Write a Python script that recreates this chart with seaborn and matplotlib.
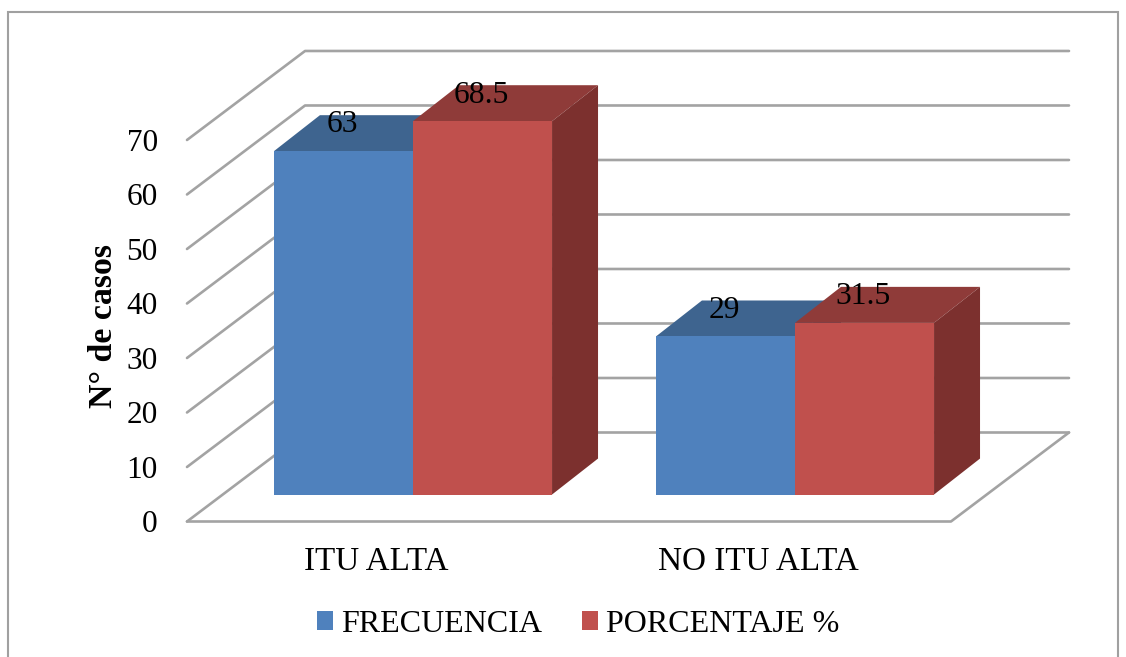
import numpy as np
import pandas as pd
import matplotlib
matplotlib.use("Agg")
import matplotlib.pyplot as plt
from matplotlib.patches import Polygon, Rectangle
import seaborn as sns

categories = ["ITU ALTA", "NO ITU ALTA"]
series_names = ["FRECUENCIA", "PORCENTAJE %"]
frecuencia = [63, 29]
porcentaje = [68.5, 31.5]
value_labels = ["63", "29", "68.5", "31.5"]
y_ticks = [0, 10, 20, 30, 40, 50, 60, 70]

front_colors = ["#4F81BD", "#C0504D"]
top_colors = ["#3E648F", "#8F3B39"]
side_colors = ["#36577F", "#7C302E"]
grid_color = "#A3A3A3"

# depth of the fake 3d, in data units
FLOOR_DROP = 4.95
WALL_DX, WALL_DY = 0.309, 16.33
BAR_DX, BAR_DY = 0.1204, 6.6

sns.set_theme(style="white")
plt.rcParams["font.family"] = ["Liberation Serif", "DejaVu Serif"]

df = pd.DataFrame({
    "categoria": categories * 2,
    "serie": np.repeat(series_names, 2),
    "valor": frecuencia + porcentaje,
})

fig = plt.figure(figsize=(11.26, 6.57), dpi=100)
ax = fig.add_axes([187 / 1126, 1 - 521.5 / 657, 882 / 1126, 471.5 / 657])

sns.barplot(data=df, x="categoria", y="valor", hue="serie", palette=front_colors,
            width=0.728, gap=0, saturation=1, errorbar=None, ax=ax, zorder=5,
            edgecolor="none", linewidth=0)

ax.set_xlim(-0.5916, 1.7173)
ax.set_ylim(-FLOOR_DROP, 81.56)
sns.despine(ax=ax, left=True, bottom=True)

# walls and floor
for v in y_ticks:
    y0 = v - FLOOR_DROP
    ax.plot([-0.5916, -0.5916 + WALL_DX, 1.7173], [y0, y0 + WALL_DY, y0 + WALL_DY],
            color=grid_color, lw=1.9, zorder=1, clip_on=False)
ax.plot([-0.5916, 1.7173 - WALL_DX, 1.7173],
        [-FLOOR_DROP, -FLOOR_DROP, -FLOOR_DROP + WALL_DY],
        color=grid_color, lw=1.9, zorder=1, clip_on=False)

# top and side faces taken from the bars seaborn drew
bars = [b for c in ax.containers for b in c]
for i, bar in enumerate(bars):
    s = i // 2
    z = 2 + s * 3
    x0, x1 = bar.get_x(), bar.get_x() + bar.get_width()
    h = bar.get_height()
    ax.add_patch(Polygon([(x0, h), (x1, h), (x1 + BAR_DX, h + BAR_DY), (x0 + BAR_DX, h + BAR_DY)],
                         facecolor=top_colors[s], edgecolor="none", zorder=z))
    ax.add_patch(Polygon([(x1, 0), (x1 + BAR_DX, BAR_DY), (x1 + BAR_DX, h + BAR_DY), (x1, h)],
                         facecolor=side_colors[s], edgecolor="none", zorder=z))
    bar.set_zorder(z + 1)
    ax.text(x0 + bar.get_width() / 2 - 0.004, h + 4.8, value_labels[i], ha="center", va="center",
            fontsize=22.7, color="black", zorder=10)

ax.set_yticks([v - FLOOR_DROP for v in y_ticks], [str(v) for v in y_ticks])
ax.set_xticks([-0.097, 0.903], categories)
ax.tick_params(axis="y", length=0, pad=21, labelsize=22.5, labelcolor="black")
ax.tick_params(axis="x", length=0, pad=18, labelsize=23.9, labelcolor="black")
ax.set_xlabel("")
ax.set_ylabel("N° de casos", fontsize=24.4, fontweight="bold", color="black")
ax.yaxis.set_label_coords(-68 / 882, (521.5 - 326) / 471.5)

sns.move_legend(ax, "center", bbox_to_anchor=(578.5 / 1126, 1 - 624.5 / 657),
                bbox_transform=fig.transFigure, ncol=2, title=None, frameon=False,
                fontsize=23, handlelength=0.5, handleheight=0.52, handletextpad=0.25,
                columnspacing=1.25)
for t in ax.get_legend().get_texts():
    t.set_color("black")

fig.add_artist(Rectangle((8 / 1126, -0.01), 1110 / 1126, 1 - 12 / 657 + 0.01, transform=fig.transFigure,
                         fill=False, edgecolor="#A0A0A0", lw=1.5))

fig.savefig("out.png", dpi=100)
